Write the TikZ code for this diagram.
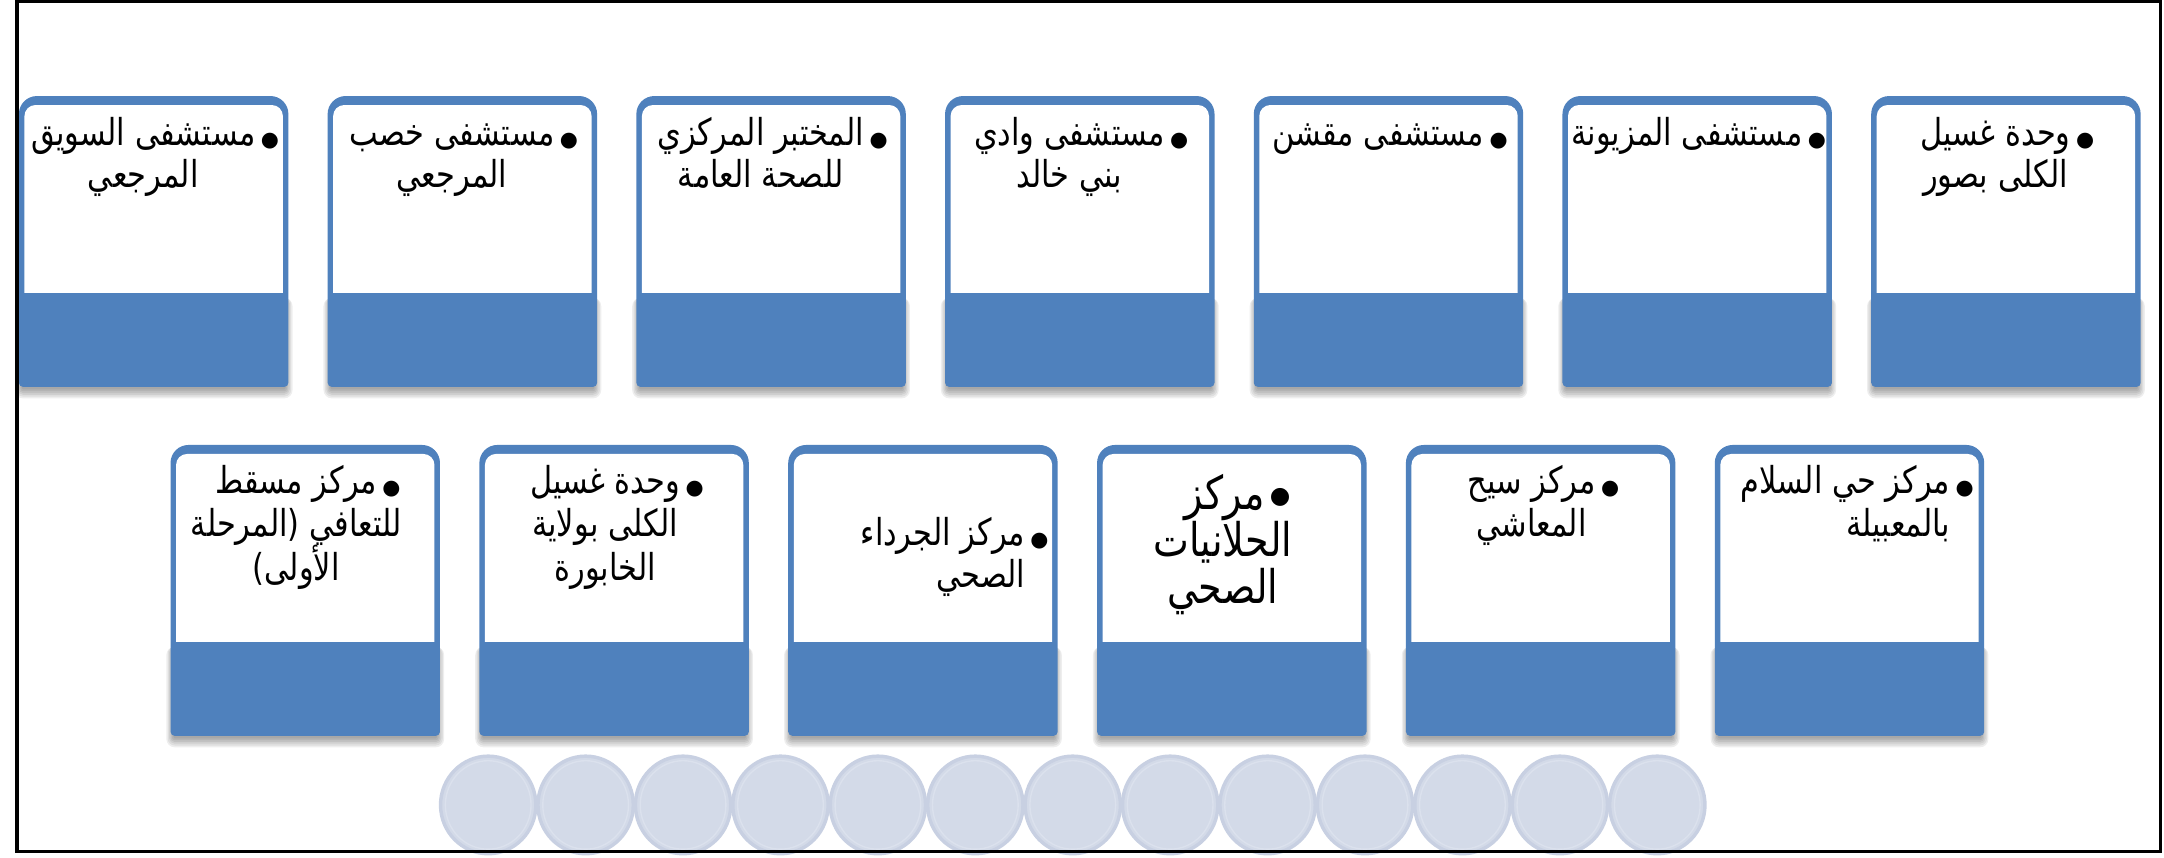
\documentclass[tikz,border=0pt]{standalone}
\usepackage{fontspec}
\usepackage{graphicx}
\newfontfamily\arabicfont[Script=Arabic]{DejaVu Sans}
\TeXXeTstate=1
\definecolor{cardblue}{RGB}{79,129,189}
\definecolor{discfill}{RGB}{211,218,232}
\definecolor{discedge}{RGB}{200,208,226}
\definecolor{discrim}{RGB}{219,225,237}
\newcommand\artxt[1]{\scalebox{1}[1.22]{\beginR #1\endR}}
\tikzset{
  txt/.style={inner sep=0pt, font=\arabicfont\fontsize{22}{26}\selectfont},
  bigtxt/.style={inner sep=0pt, font=\arabicfont\fontsize{27.5}{32}\selectfont},
  bul/.style={inner sep=0pt, anchor=base west, font=\arabicfont\fontsize{15}{18}\selectfont},
  bigbul/.style={inner sep=0pt, anchor=base west, font=\arabicfont\fontsize{17}{20}\selectfont},
  disc/.style={fill=discfill, draw=discedge, line width=2.5pt},
  discring/.style={draw=discrim, line width=1pt},
  frameline/.style={draw=black, line width=2.4pt},
  card/.pic={
    \foreach \e in {6,5,4,3,2,1}{
      \fill[black, opacity=0.065, rounded corners=\e pt] (3-\e,146) rectangle (192+\e,211+1.3*\e);
    }
    \fill[cardblue] (0,105) [rounded corners=3pt] -- (0,210.5) -- (195,210.5) -- (195,105) [rounded corners=13pt] -- (195,0) -- (0,0) -- cycle;
    \fill[white] (4,80) [sharp corners] -- (4,142.5) -- (191,142.5) -- (191,80) [rounded corners=8pt] -- (191,6.5) -- (4,6.5) -- cycle;
  },
}
\begin{document}
\begin{tikzpicture}[x=1pt,y=-1pt]
\useasboundingbox (0,0) rectangle (1566,620.2);
\fill[white] (0,0) rectangle (1566,620.2);
% discs
\foreach \i in {0,...,12}{
  \path[disc] (353.3+70.5*\i,582.5) ellipse [x radius=34.5, y radius=35.3];
  \path[discring] (353.3+70.5*\i,582.5) ellipse [x radius=31, y radius=32];
}
% cards
\foreach \i in {0,...,6}{\pic at (13.7+223.4*\i,69.5) {card};}
\foreach \i in {0,...,5}{\pic at (123.4+223.5*\i,322) {card};}
% top row texts
\node[txt, anchor=base] (a1l1) at (103.7,105) {\artxt{مستشفى السويق}};
\node[bul] (a1b) at ([xshift=3.5pt,yshift=-1pt]a1l1.base east) {●};
\node[txt, anchor=base] (a1l2) at (103.7,136) {\artxt{المرجعي}};

\node[txt, anchor=base] (a2l1) at (327.1,105) {\artxt{مستشفى خصب}};
\node[bul] (a2b) at ([xshift=3.5pt,yshift=-1pt]a2l1.base east) {●};
\node[txt, anchor=base] (a2l2) at (327.1,136) {\artxt{المرجعي}};

\node[txt, anchor=base] (a3l1) at (550.5,105) {\artxt{المختبر المركزي}};
\node[bul] (a3b) at ([xshift=3.5pt,yshift=-1pt]a3l1.base east) {●};
\node[txt, anchor=base] (a3l2) at (550.5,136) {\artxt{للصحة العامة}};

\node[txt, anchor=base] (a4l1) at (773.9,105) {\artxt{مستشفى وادي}};
\node[bul] (a4b) at ([xshift=3.5pt,yshift=-1pt]a4l1.base east) {●};
\node[txt, anchor=base] (a4l2) at (773.9,136) {\artxt{بني خالد}};

\node[txt, anchor=base] (a5l1) at (997.3,105) {\artxt{مستشفى مقشن}};
\node[bul] (a5b) at ([xshift=3.5pt,yshift=-1pt]a5l1.base east) {●};

\node[txt, anchor=base] (a6l1) at (1220.7,105) {\artxt{مستشفى المزيونة}};
\node[bul] (a6b) at ([xshift=3.5pt,yshift=-1pt]a6l1.base east) {●};

\node[txt, anchor=base] (a7l1) at (1444.1,105) {\artxt{وحدة غسيل}};
\node[bul] (a7b) at ([xshift=3.5pt,yshift=-1pt]a7l1.base east) {●};
\node[txt, anchor=base] (a7l2) at (1444.1,136) {\artxt{الكلى بصور}};
% bottom row texts
\node[txt, anchor=base] (b1l1) at (214.4,357) {\artxt{مركز مسقط}};
\node[bul] (b1b) at ([xshift=3.5pt,yshift=-1pt]b1l1.base east) {●};
\node[txt, anchor=base] (b1l2) at (214.4,388.5) {\artxt{للتعافي (المرحلة}};
\node[txt, anchor=base] (b1l3) at (214.4,420) {\artxt{الأولى)}};

\node[txt, anchor=base] (b2l1) at (437.9,357) {\artxt{وحدة غسيل}};
\node[bul] (b2b) at ([xshift=3.5pt,yshift=-1pt]b2l1.base east) {●};
\node[txt, anchor=base] (b2l2) at (437.9,388.5) {\artxt{الكلى بولاية}};
\node[txt, anchor=base] (b2l3) at (437.9,420) {\artxt{الخابورة}};

\node[txt, anchor=base east] (b3l1) at (742,394.5) {\artxt{مركز الجرداء}};
\node[bul] (b3b) at ([xshift=3.5pt,yshift=-1pt]b3l1.base east) {●};
\node[txt, anchor=base east] (b3l2) at (742,425.5) {\artxt{الصحي}};

\node[bigtxt, anchor=base] (b4l1) at (886,369) {\artxt{مركز}};
\node[bigbul] (b4b) at ([xshift=3.5pt,yshift=5pt]b4l1.base east) {●};
\node[bigtxt, anchor=base] (b4l2) at (884.9,403) {\artxt{الحلانيات}};
\node[bigtxt, anchor=base] (b4l3) at (884.9,437) {\artxt{الصحي}};

\node[txt, anchor=base] (b5l1) at (1108.4,357) {\artxt{مركز سيح}};
\node[bul] (b5b) at ([xshift=3.5pt,yshift=-1pt]b5l1.base east) {●};
\node[txt, anchor=base] (b5l2) at (1108.4,388.5) {\artxt{المعاشي}};

\node[txt, anchor=base east] (b6l1) at (1411.5,357) {\artxt{مركز حي السلام}};
\node[bul] (b6b) at ([xshift=3.5pt,yshift=-1pt]b6l1.base east) {●};
\node[txt, anchor=base east] (b6l2) at (1411.5,388.5) {\artxt{بالمعبيلة}};
% frame
\path[frameline] (12.3,1) rectangle (1563.3,616.3);
\end{tikzpicture}
\end{document}
